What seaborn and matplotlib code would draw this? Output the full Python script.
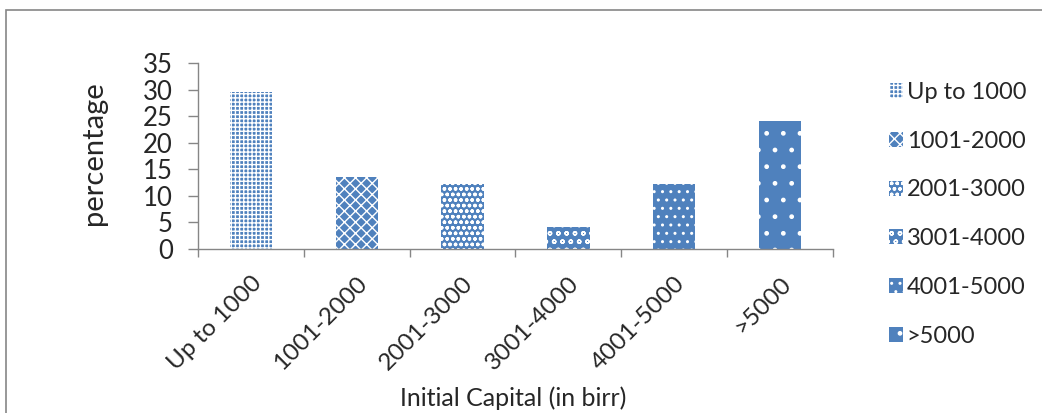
import matplotlib
matplotlib.use("Agg")
import matplotlib.pyplot as plt
import seaborn as sns
import pandas as pd
from matplotlib.patches import Rectangle
from matplotlib.ticker import FixedLocator

categories = ["Up to 1000", "1001-2000", "2001-3000", "3001-4000", "4001-5000", ">5000"]
percentages = [29.5, 13.5, 12.2, 4.1, 12.2, 24.1]
y_ticks = [0, 5, 10, 15, 20, 25, 30, 35]

hatches = ["++++", "xxx", "ooo", "oo", "..", "."]
bar_color = "#4F81BD"

sns.set_theme(style="white")
plt.rcParams["font.family"] = ["Lato", "DejaVu Sans"]
plt.rcParams["hatch.color"] = "white"
plt.rcParams["hatch.linewidth"] = 1.0

df = pd.DataFrame({"capital": categories, "pct": percentages})

fig = plt.figure(figsize=(10.42, 4.13), dpi=100)
ax = fig.add_axes([0.19, 0.397, 0.6094, 0.4505])

sns.barplot(data=df, x="capital", y="pct", hue="capital", order=categories,
            hue_order=categories, palette=[bar_color] * len(categories),
            width=0.4, dodge=False, saturation=1, legend=True, ax=ax)

for patch, h in zip(ax.patches, hatches):
    patch.set_hatch(h)
    patch.set_edgecolor("white")
    patch.set_linewidth(0)

ax.set_ylim(0, 35)
ax.set_xlim(-0.5, len(categories) - 0.5)
ax.set_yticks(y_ticks)
ax.tick_params(axis="y", labelsize=18.5, length=7, width=1, color="#868686",
               direction="out", left=True, pad=11)
ax.tick_params(axis="x", which="major", length=0, labelsize=17.5, pad=17)
ax.xaxis.set_minor_locator(FixedLocator([i - 0.5 for i in range(len(categories) + 1)]))
ax.tick_params(axis="x", which="minor", length=6, width=1, color="#868686",
               direction="out", bottom=True)
ax.set_xticks(range(len(categories)))
ax.set_xticklabels(categories, rotation=45, ha="right", rotation_mode="anchor")

for side in ["top", "right"]:
    ax.spines[side].set_visible(False)
for side in ["left", "bottom"]:
    ax.spines[side].set_color("#868686")
    ax.spines[side].set_linewidth(1)

ax.set_ylabel("percentage", fontsize=21)
ax.yaxis.set_label_coords(-0.143, 0.513)
ax.set_xlabel("Initial Capital (in birr)", fontsize=18)
ax.xaxis.set_label_coords(0.496, -0.80)
ax.xaxis.label.set_va("center")

handles, labels = ax.get_legend_handles_labels()
for hd, h in zip(handles, hatches):
    hd.set_hatch(h)
    hd.set_edgecolor("white")
    hd.set_linewidth(0)
ax.legend(handles, labels, loc="upper left", bbox_to_anchor=(0.844, 0.825),
          bbox_transform=fig.transFigure, frameon=False, fontsize=17,
          handlelength=0.6, handleheight=0.6, handletextpad=0.15,
          labelspacing=1.18, borderaxespad=0)

# outer chart border (only top and left edges fall inside the canvas)
fig.patches.append(Rectangle((6 / 1042, -0.1), 1.2, (413 - 10) / 413 + 0.1,
                             transform=fig.transFigure, fill=False,
                             edgecolor="#868686", linewidth=1.2))

fig.savefig("out.png", dpi=100)
